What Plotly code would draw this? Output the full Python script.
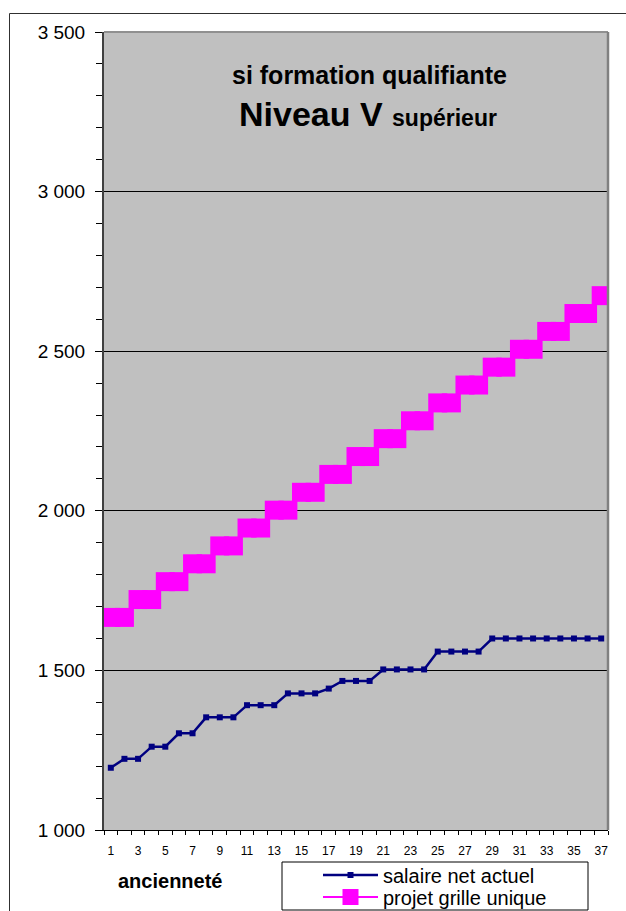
import plotly.graph_objects as go

years = [1, 2, 3, 4, 5, 6, 7, 8, 9, 10, 11, 12, 13, 14, 15, 16, 17, 18, 19,
         20, 21, 22, 23, 24, 25, 26, 27, 28, 29, 30, 31, 32, 33, 34, 35, 36, 37]
salaire_net_actuel = [1195, 1223, 1223, 1261, 1261, 1303, 1303, 1353, 1353, 1353,
                      1391, 1391, 1391, 1428, 1428, 1428, 1443, 1467, 1467, 1467,
                      1503, 1503, 1503, 1503, 1559, 1559, 1559, 1559, 1600, 1600,
                      1600, 1600, 1600, 1600, 1600, 1600, 1600]
projet_grille_unique = [1666, 1666, 1722, 1722, 1778, 1778, 1834, 1834, 1890, 1890,
                        1946, 1946, 2002, 2002, 2058, 2058, 2114, 2114, 2170, 2170,
                        2226, 2226, 2282, 2282, 2338, 2338, 2394, 2394, 2450, 2450,
                        2506, 2506, 2562, 2562, 2618, 2618, 2674]
x_tick_labels = [1, 3, 5, 7, 9, 11, 13, 15, 17, 19, 21, 23, 25, 27, 29, 31, 33, 35, 37]

W, H = 626, 911
L, R, T, B = 104, 18, 32, 81
PW, PH = W - L - R, H - T - B


def px(x):
    return (x - L) / PW


def py(y):
    return (H - B - y) / PH


FONT = "Liberation Sans, Arial, sans-serif"

fig = go.Figure()
fig.add_trace(go.Scatter(
    x=years, y=salaire_net_actuel, name="salaire net actuel",
    mode="lines+markers",
    line=dict(color="#000080", width=2.5),
    marker=dict(symbol="square", size=6, color="#000080", line=dict(width=0)),
    legend="legend",
))
fig.add_trace(go.Scatter(
    x=years, y=projet_grille_unique, name="projet grille unique",
    mode="lines+markers",
    line=dict(color="#FF00FF", width=2),
    marker=dict(symbol="square", size=19, color="#FF00FF", line=dict(width=0)),
    legend="legend2",
))

boundaries = [y - 0.5 for y in years] + [years[-1] + 0.5]

fig.update_xaxes(
    range=[0.5, 37.5], tickmode="array", tickvals=x_tick_labels,
    ticktext=[str(v) for v in x_tick_labels],
    ticks="", showgrid=False, zeroline=False,
    showline=True, linecolor="black", linewidth=1,
    tickfont=dict(family=FONT, size=12, color="black"),
    ticklabelstandoff=10,
    minor=dict(tickmode="array", tickvals=boundaries, ticks="outside",
               ticklen=4, tickcolor="black", tickwidth=1, showgrid=False),
    fixedrange=True, automargin=False,
)
fig.update_yaxes(
    range=[1000, 3500], tickmode="linear", tick0=1000, dtick=500,
    tickformat=",.0f", ticks="outside", ticklen=7, tickcolor="black",
    showgrid=True, gridcolor="black", gridwidth=1, zeroline=False,
    showline=True, linecolor="#404040", linewidth=2,
    tickfont=dict(family=FONT, size=19, color="black"),
    ticklabelstandoff=6,
    minor=dict(tickmode="linear", tick0=1000, dtick=100, ticks="outside",
               ticklen=6, tickcolor="black", tickwidth=1, showgrid=False),
    fixedrange=True, automargin=False,
)

shapes = [
    # outer chart border
    dict(type="rect", xref="paper", yref="paper",
         x0=px(9.5), x1=px(640), y0=py(930), y1=py(13.5),
         line=dict(color="#303030", width=1), fillcolor="rgba(0,0,0,0)", layer="below"),
    # plot area top and right edges
    dict(type="line", xref="paper", yref="paper", x0=0, x1=1, y0=1, y1=1,
         line=dict(color="#909090", width=2)),
    dict(type="line", xref="paper", yref="paper", x0=1, x1=1, y0=0, y1=1,
         line=dict(color="#808080", width=2.5)),
    # legend box
    dict(type="rect", xref="paper", yref="paper",
         x0=px(282), x1=px(588), y0=py(910), y1=py(862),
         line=dict(color="black", width=1), fillcolor="white", layer="below"),
]

annotations = [
    dict(text="<b>si formation qualifiante</b>", xref="paper", yref="paper",
         x=px(369), y=py(75), xanchor="center", yanchor="middle", showarrow=False,
         font=dict(family=FONT, size=25, color="black")),
    dict(text="<b>Niveau V</b> <b><span style='font-size:23px'>supérieur</span></b>",
         xref="paper", yref="paper",
         x=px(368), y=py(114), xanchor="center", yanchor="middle", showarrow=False,
         font=dict(family=FONT, size=34, color="black")),
    dict(text="<b>ancienneté</b>", xref="paper", yref="paper",
         x=px(116), y=py(881), xanchor="left", yanchor="middle", showarrow=False,
         font=dict(family=FONT, size=20, color="black")),
]

legend_common = dict(xref="container", yref="container", xanchor="left",
                     yanchor="middle", bgcolor="rgba(0,0,0,0)", borderwidth=0,
                     itemwidth=55, font=dict(family=FONT, size=20, color="black"))

fig.update_layout(
    width=W, height=H,
    margin=dict(l=L, r=R, t=T, b=B, pad=0, autoexpand=False),
    paper_bgcolor="white", plot_bgcolor="#C0C0C0",
    separators=", ",
    shapes=shapes, annotations=annotations,
    showlegend=True,
    legend=dict(x=318 / W, y=(H - 875) / H, **legend_common),
    legend2=dict(x=318 / W, y=(H - 897) / H, **legend_common),
)

fig.write_html("out.html", config={"displayModeBar": False},
               post_script="document.body.style.margin='0';document.body.style.overflow='hidden';")
